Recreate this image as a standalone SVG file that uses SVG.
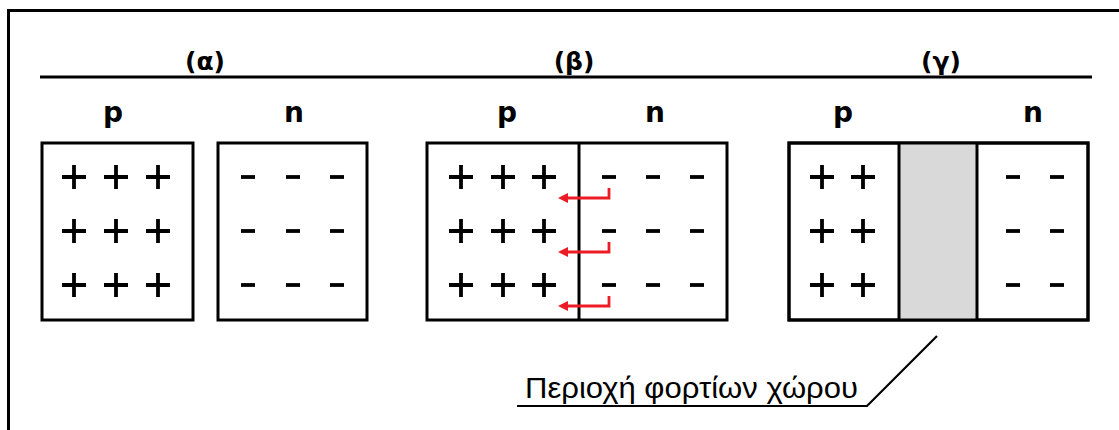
<svg xmlns="http://www.w3.org/2000/svg" width="1119" height="430" viewBox="0 0 1119 430">
<defs>
<style>
.box{fill:#fff;stroke:#000;stroke-width:3}
.div{stroke:#000;stroke-width:3}
.hd{font-family:"DejaVu Sans",sans-serif;font-weight:bold;font-size:25px;text-anchor:middle;fill:#000}
.lb{font-family:"DejaVu Sans",sans-serif;font-weight:bold;font-size:28px;text-anchor:middle;fill:#000}
.ch{stroke:#000;stroke-width:3.8;fill:none}
.arr{stroke:#ed1c24;stroke-width:2.8;fill:none}
.cap{font-family:"Liberation Sans",Arial,sans-serif;font-size:29px;fill:#000}
</style>
<symbol id="plus" overflow="visible"><path class="ch" d="M-12,0H12M0,-12V12"/></symbol>
<symbol id="minus" overflow="visible"><path class="ch" d="M-7,0H7"/></symbol>
<marker id="ah" markerWidth="12" markerHeight="12" refX="2" refY="5" orient="auto" markerUnits="userSpaceOnUse" overflow="visible"><path d="M0,0L10,5L0,10Z" fill="#ed1c24"/></marker>
</defs>
<rect width="1119" height="430" fill="#fff"/>
<path d="M8.5,432V10.5H1121" fill="none" stroke="#000" stroke-width="3"/>
<line x1="40" y1="77" x2="1092" y2="77" stroke="#000" stroke-width="3"/>
<text class="hd" x="205" y="70">(α)</text>
<text class="hd" x="574" y="70">(β)</text>
<text class="hd" x="941" y="70">(γ)</text>

<g id="a-p">
<text class="lb" x="113" y="122">p</text>
<rect class="box" x="42" y="143" width="151" height="177"/>
<use href="#plus" x="74" y="177"/><use href="#plus" x="116" y="177"/><use href="#plus" x="158" y="177"/>
<use href="#plus" x="74" y="231"/><use href="#plus" x="116" y="231"/><use href="#plus" x="158" y="231"/>
<use href="#plus" x="74" y="285"/><use href="#plus" x="116" y="285"/><use href="#plus" x="158" y="285"/>
</g>
<g id="a-n">
<text class="lb" x="294" y="122">n</text>
<rect class="box" x="218" y="143" width="149" height="177"/>
<use href="#minus" x="248" y="177"/><use href="#minus" x="293" y="177"/><use href="#minus" x="337" y="177"/>
<use href="#minus" x="248" y="231"/><use href="#minus" x="293" y="231"/><use href="#minus" x="337" y="231"/>
<use href="#minus" x="248" y="285"/><use href="#minus" x="293" y="285"/><use href="#minus" x="337" y="285"/>
</g>
<g id="b-pn">
<text class="lb" x="507" y="122">p</text>
<text class="lb" x="655" y="122">n</text>
<rect class="box" x="427" y="143" width="300" height="177"/>
<line class="div" x1="579" y1="143" x2="579" y2="320"/>
<use href="#plus" x="461" y="177"/><use href="#plus" x="503" y="177"/><use href="#plus" x="544" y="177"/>
<use href="#plus" x="461" y="231"/><use href="#plus" x="503" y="231"/><use href="#plus" x="544" y="231"/>
<use href="#plus" x="461" y="285"/><use href="#plus" x="503" y="285"/><use href="#plus" x="544" y="285"/>
<use href="#minus" x="609" y="177"/><use href="#minus" x="653" y="177"/><use href="#minus" x="697" y="177"/>
<use href="#minus" x="609" y="231"/><use href="#minus" x="653" y="231"/><use href="#minus" x="697" y="231"/>
<use href="#minus" x="609" y="285"/><use href="#minus" x="653" y="285"/><use href="#minus" x="697" y="285"/>
</g>
<g id="connectors">
<path class="arr" d="M609,188V198H566" marker-end="url(#ah)"/>
<path class="arr" d="M609,242V252H566" marker-end="url(#ah)"/>
<path class="arr" d="M609,296V306H566" marker-end="url(#ah)"/>
<path d="M517,406H867L937,336" fill="none" stroke="#000" stroke-width="2.2"/>
</g>
<g id="c-pn">
<text class="lb" x="843" y="122">p</text>
<text class="lb" x="1033" y="122">n</text>
<rect class="box" x="789" y="143" width="299" height="177"/>
<rect x="899" y="143" width="78" height="177" fill="#d9d9d9"/>
<line class="div" x1="899" y1="143" x2="899" y2="320"/>
<line class="div" x1="977" y1="143" x2="977" y2="320"/>
<rect x="789" y="143" width="299" height="177" fill="none" stroke="#000" stroke-width="3"/>
<use href="#plus" x="822" y="177"/><use href="#plus" x="863" y="177"/>
<use href="#plus" x="822" y="231"/><use href="#plus" x="863" y="231"/>
<use href="#plus" x="822" y="285"/><use href="#plus" x="863" y="285"/>
<use href="#minus" x="1013" y="177"/><use href="#minus" x="1057" y="177"/>
<use href="#minus" x="1013" y="231"/><use href="#minus" x="1057" y="231"/>
<use href="#minus" x="1013" y="285"/><use href="#minus" x="1057" y="285"/>
</g>
<g id="label">
<text class="cap" x="525" y="398" textLength="333" lengthAdjust="spacingAndGlyphs">Περιοχή φορτίων χώρου</text>
</g>
</svg>
